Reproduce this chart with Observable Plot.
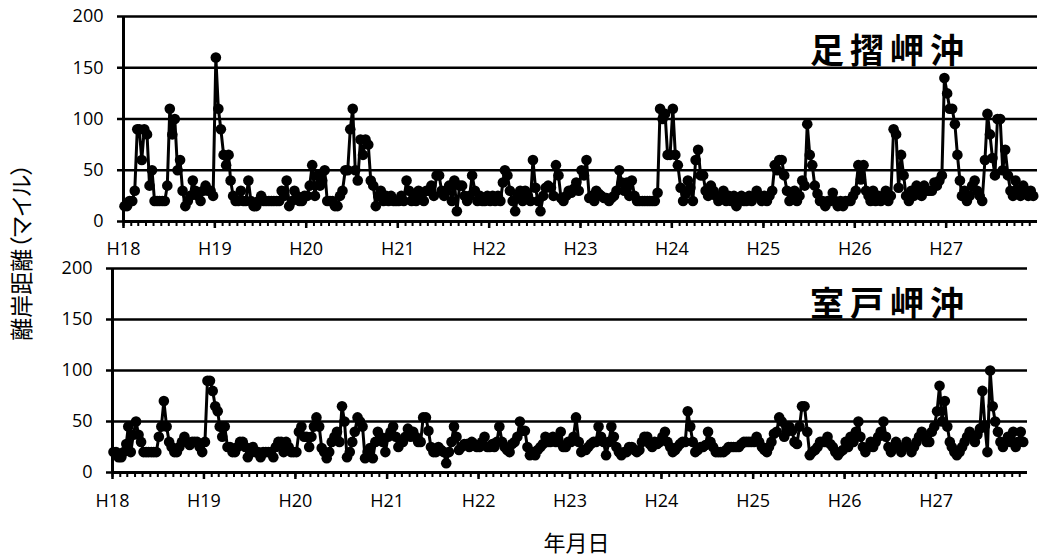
<!DOCTYPE html>
<html lang="ja">
<head>
<meta charset="utf-8">
<script src="https://cdn.jsdelivr.net/npm/d3@7"></script>
<script src="https://cdn.jsdelivr.net/npm/@observablehq/plot@0.6"></script>
<style>
html,body{margin:0;padding:0;background:#fff;}
#chart{position:relative;width:1039px;height:559px;overflow:hidden;background:#fff;}
#top,#bottom,#overlay{position:absolute;left:0;}
#top{top:0;}
#bottom{top:250px;}
#overlay{top:0;pointer-events:none;}
</style>
</head>
<body>
<div id="chart">
  <div id="top"></div>
  <div id="bottom"></div>
  <svg id="overlay" width="1039" height="559"></svg>
</div>
<script>
// ---- data (旬ごとの値, 1年36点) ----
const years = [2006, 2007, 2008, 2009, 2010, 2011, 2012, 2013, 2014, 2015];
const yearLabels = ["H18", "H19", "H20", "H21", "H22", "H23", "H24", "H25", "H26", "H27"];
const dekadDays = [5, 15, 25];
const yTicks = [0, 50, 100, 150, 200];
const panelTitles = ["足摺岬沖", "室戸岬沖"];
const yAxisTitle = "離岸距離（マイル）";
const xAxisTitle = "年月日";

const ashizuri = [
  15,15,20,20,30,90,90,60,90,85,35,50,20,20,20,20,20,35,110,85,100,50,60,30,15,20,25,40,30,25,20,30,35,30,30,25,
  160,110,90,65,55,65,40,25,20,20,30,20,20,40,20,15,15,20,25,20,20,20,20,20,20,20,30,25,40,15,20,30,25,20,20,25,
  25,35,55,25,45,35,40,50,20,20,20,15,15,25,30,50,50,90,110,50,40,80,65,80,75,40,35,15,25,30,20,25,20,25,20,20,
  20,25,20,40,30,20,25,20,30,25,20,30,30,35,25,45,45,30,25,30,35,20,40,10,35,35,25,20,25,45,30,20,25,20,20,25,
  20,25,20,25,20,38,50,45,30,20,10,25,30,20,30,25,20,60,33,20,10,25,33,35,33,25,55,45,23,20,25,30,28,32,38,30,
  50,45,60,23,25,20,30,27,25,23,23,20,23,25,30,50,38,30,38,25,40,25,20,20,20,20,20,20,20,20,28,110,100,105,65,65,
  110,65,55,33,20,27,40,33,20,60,70,45,45,30,25,35,30,25,20,25,30,20,25,20,25,15,20,25,20,20,25,20,25,30,25,20,
  25,20,25,30,55,50,60,60,45,30,20,25,30,20,25,40,35,95,65,55,35,27,20,20,15,20,20,28,20,15,20,15,20,20,20,25,
  30,55,41,55,30,25,20,30,20,25,20,25,30,20,25,90,85,33,65,45,25,20,30,25,35,30,25,35,30,30,30,38,35,40,45,140,
  125,110,110,95,65,40,25,30,20,25,35,40,30,25,20,60,105,85,62,45,100,100,50,70,45,30,25,40,30,25,35,30,25,30,25
];

const muroto = [
  20,20,15,15,20,28,45,20,37,50,37,30,20,20,20,20,20,20,35,45,70,45,30,25,20,20,25,30,35,30,27,30,30,30,25,20,
  30,90,90,80,65,60,45,35,45,25,25,20,20,25,30,30,25,15,20,25,20,20,15,20,20,20,20,15,25,30,30,20,30,25,20,20,
  20,40,45,35,35,25,35,45,54,45,24,20,14,20,30,35,40,30,65,50,15,20,30,40,54,50,45,14,20,24,14,30,40,35,30,20,
  35,40,45,35,25,30,30,35,43,35,40,35,30,30,54,54,41,25,20,20,25,22,20,9,20,30,45,35,22,25,28,28,25,30,28,25,
  25,30,35,25,25,28,25,30,45,30,25,22,20,28,30,35,50,41,41,25,17,20,17,22,25,28,35,30,30,35,30,30,40,25,25,30,
  30,35,54,30,20,22,22,25,28,30,30,45,35,30,17,30,45,35,25,20,17,20,20,25,25,22,20,22,30,35,35,28,25,30,28,30,
  35,40,30,25,20,22,25,28,30,30,60,45,30,20,22,25,25,27,40,30,25,20,20,20,20,22,25,25,25,25,25,28,30,30,30,30,
  30,35,30,25,22,20,25,30,38,40,54,50,35,40,45,41,30,28,45,65,65,40,17,20,22,25,30,30,30,35,28,25,20,17,20,22,
  30,25,35,30,40,50,35,25,20,25,30,25,30,35,40,50,35,25,20,25,30,25,20,25,30,25,20,25,30,35,40,35,30,30,40,45,
  60,85,50,70,45,30,25,20,17,20,25,30,35,40,35,30,37,43,80,46,20,100,65,50,40,30,25,30,35,30,40,25,30,40,30
];

// ---- build date categories (上旬・中旬・下旬) ----
const dekadDates = [];
for (const y of years) for (let m = 0; m < 12; m++) for (const d of dekadDays) dekadDates.push(new Date(Date.UTC(y, m, d)));

const xStart = new Date(Date.UTC(years[0], 0, 1));
const xEnd = new Date(Date.UTC(years[years.length - 1] + 1, 0, 1));
const yearTicks = years.map(y => new Date(Date.UTC(y, 0, 1)));
const monthTicks = d3.utcMonth.range(xStart, xEnd);

function panel(values, m) {
  const data = values.map((v, i) => ({date: dekadDates[i], value: v}));
  return Plot.plot({
    width: 1039,
    height: m.height,
    marginLeft: m.left,
    marginRight: m.right,
    marginTop: m.top,
    marginBottom: m.bottom,
    style: {fontFamily: '"Open Sans", sans-serif', fontSize: "18px", color: "#000", background: "transparent", overflow: "visible"},
    x: {type: "utc", domain: [xStart, xEnd]},
    y: {domain: [0, 200]},
    marks: [
      Plot.ruleY(yTicks.filter(d => d > 0), {stroke: "#000", strokeWidth: 2.5}),
      Plot.axisY({ticks: yTicks, tickSize: 6, tickPadding: 14, strokeWidth: 2.5, tickFormat: d => String(d), label: null}),
      Plot.axisX({ticks: monthTicks, tickSize: 5, strokeWidth: 2, tickFormat: () => "", label: null}),
      Plot.axisX({ticks: yearTicks, tickSize: 7, tickPadding: m.xpad, strokeWidth: 2.5,
                  tickFormat: d => yearLabels[d.getUTCFullYear() - years[0]], label: null}),
      Plot.ruleY([0], {stroke: "#000", strokeWidth: 3}),
      Plot.ruleX([xStart], {stroke: "#000", strokeWidth: 3}),
      Plot.line(data, {x: "date", y: "value", stroke: "#000", strokeWidth: 3}),
      Plot.dot(data, {x: "date", y: "value", r: 5.3, fill: "#000", stroke: "none"})
    ]
  });
}

document.getElementById("top").append(panel(ashizuri, {height: 262, left: 123, right: 2, top: 16, bottom: 41, xpad: 14}));
document.getElementById("bottom").append(panel(muroto, {height: 309, left: 112, right: 12, top: 18, bottom: 87, xpad: 15}));

// ---- titles and axis labels ----
const ov = d3.select("#overlay");
const cjk = '"Noto Sans CJK JP", "Noto Sans CJK SC", sans-serif';
[[panelTitles[0], 62.5], [panelTitles[1], 316]].forEach(([t, y]) => {
  ov.append("text").attr("x", 810).attr("y", y)
    .attr("font-family", cjk).attr("font-weight", 700).attr("font-size", 34)
    .attr("letter-spacing", 6).attr("fill", "#000").text(t);
});
ov.append("text")
  .attr("transform", "translate(29.7,252) rotate(-90)")
  .attr("text-anchor", "middle")
  .attr("font-family", cjk).attr("font-size", 23)
  .style("font-feature-settings", '"palt"')
  .attr("fill", "#000").text(yAxisTitle);
ov.append("text")
  .attr("x", 576.5).attr("y", 551)
  .attr("text-anchor", "middle")
  .attr("font-family", cjk).attr("font-size", 22)
  .attr("fill", "#000").text(xAxisTitle);
</script>
</body>
</html>
